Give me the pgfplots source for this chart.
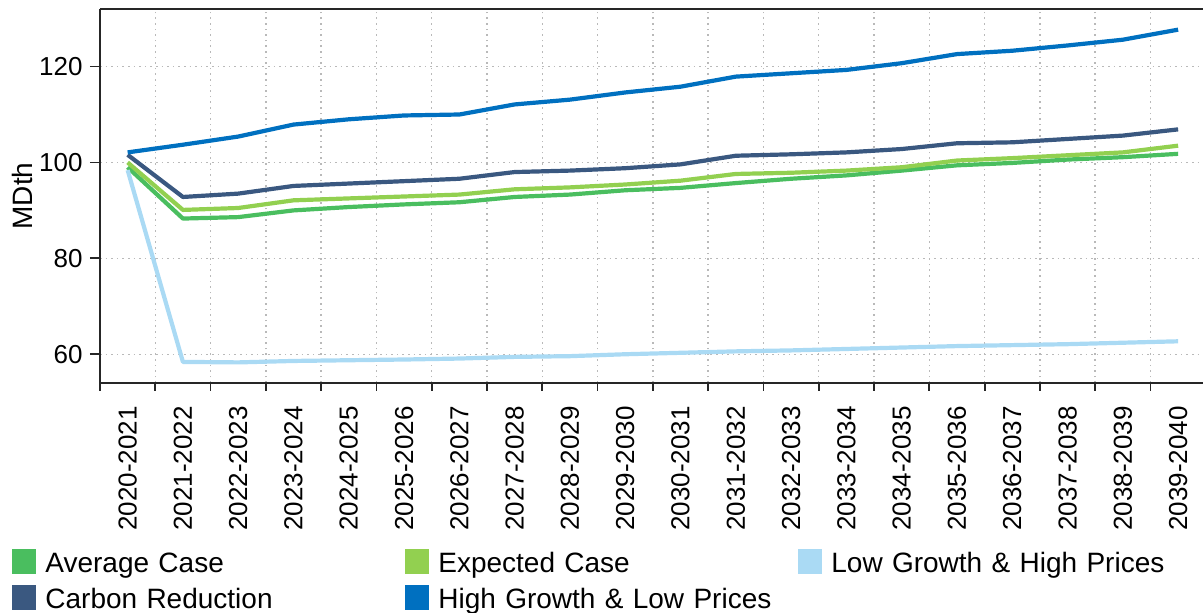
\documentclass[border=0pt]{standalone}
\usepackage{fontspec}
\setmainfont{Liberation Sans}
\usepackage{pgfplots}
\usepackage{pgfplotstable}
\pgfplotsset{compat=1.18}
\definecolor{cavg}{RGB}{74,190,95}
\definecolor{cexp}{RGB}{146,208,80}
\definecolor{clow}{RGB}{170,218,244}
\definecolor{ccarb}{RGB}{58,88,128}
\definecolor{chigh}{RGB}{0,112,192}
\pgfplotstableread{
x avg exp low carb high
0 99.0 100.0 98.4 101.6 102.1
1 88.3 90.1 58.4 92.8 103.7
2 88.6 90.5 58.3 93.5 105.4
3 90.0 92.1 58.6 95.1 107.9
4 90.7 92.5 58.75 95.6 109.0
5 91.25 92.9 58.9 96.1 109.8
6 91.7 93.3 59.1 96.6 110.0
7 92.8 94.4 59.45 98.0 112.1
8 93.3 94.8 59.6 98.3 113.1
9 94.2 95.4 60.0 98.8 114.6
10 94.7 96.2 60.3 99.6 115.8
11 95.7 97.6 60.6 101.4 117.9
12 96.6 97.85 60.8 101.7 118.6
13 97.3 98.3 61.1 102.1 119.3
14 98.3 99.0 61.4 102.8 120.7
15 99.4 100.4 61.7 104.0 122.6
16 99.9 100.9 61.9 104.2 123.3
17 100.6 101.5 62.1 104.9 124.4
18 101.1 102.1 62.4 105.6 125.6
19 101.8 103.5 62.7 106.9 127.7
}\data
\begin{document}
\begin{tikzpicture}
\begin{axis}[
  scale only axis,
  width=551.5pt, height=187pt,
  xmin=-0.5, xmax=19.45,
  ymin=54, ymax=132,
  axis x line=box, axis y line=left,
  axis line style={line width=1pt, black!85, -},
  xtick={0,...,19},
  xticklabels={2020-2021,2021-2022,2022-2023,2023-2024,2024-2025,2025-2026,2026-2027,2027-2028,2028-2029,2029-2030,2030-2031,2031-2032,2032-2033,2033-2034,2034-2035,2035-2036,2036-2037,2037-2038,2038-2039,2039-2040},
  minor xtick={-0.5,0.5,...,19.5},
  xtick pos=bottom,
  ytick={60,80,100,120},
  tick align=outside,
  major x tick style={draw=none},
  major tick length=5pt,
  minor tick length=3.8pt,
  every tick/.style={line width=0.9pt, black!85},
  xminorgrids=true, ymajorgrids=true, xmajorgrids=false,
  grid style={dash pattern=on 0.8pt off 2pt, gray!55, line width=0.7pt},
  minor grid style={dash pattern=on 0.8pt off 2pt, gray!55, line width=0.7pt},
  /pgf/number format/assume math mode=true,
  ticklabel style={font=\fontsize{13}{15}\selectfont},
  xticklabel style={rotate=90, anchor=east, inner sep=0pt},
  yticklabel style={inner sep=0pt},
  xticklabel shift=6.5pt,
  yticklabel shift=3.5pt,
  ylabel={MDth},
  every axis y label/.style={at={(axis description cs:-0.0707,0.5)}, rotate=90, anchor=center, font=\fontsize{14}{16}\selectfont},
  legend columns=3,
  legend cell align=left,
  legend image code/.code={\fill[#1,draw=none] (0pt,-1pt) rectangle (12pt,11.5pt);},
  legend style={at={(0,0)}, anchor=north west, xshift=-44pt, yshift=-83pt,
    draw=none, fill=none, inner sep=0pt, row sep=5.5pt,
    cells={anchor=base west},
    nodes={font=\fontsize{14}{16}\selectfont, text width=180pt, align=left, inner xsep=0pt, inner ysep=0pt, text height=11.5pt, text depth=1pt},
    /tikz/every odd column/.append style={column sep=4.5pt},
    /tikz/every even column/.append style={column sep=0pt}},
  every axis plot/.append style={line width=2.1pt, line join=round},
]
\addplot[cavg, no markers] table[x=x, y=avg] {\data};
\addlegendentry{Average Case}
\addplot[cexp, no markers] table[x=x, y=exp] {\data};
\addlegendentry{Expected Case}
\addplot[clow, no markers] table[x=x, y=low] {\data};
\addlegendentry{Low Growth \& High Prices}
\addplot[ccarb, no markers] table[x=x, y=carb] {\data};
\addlegendentry{Carbon Reduction}
\addplot[chigh, no markers] table[x=x, y=high] {\data};
\addlegendentry{High Growth \& Low Prices}
\coordinate (sw) at (rel axis cs:0,0);
\end{axis}
\pgfresetboundingbox
\path[use as bounding box] (sw) ++(-50pt,-114.5pt) rectangle ++(602pt,306pt);
\end{tikzpicture}
\end{document}
